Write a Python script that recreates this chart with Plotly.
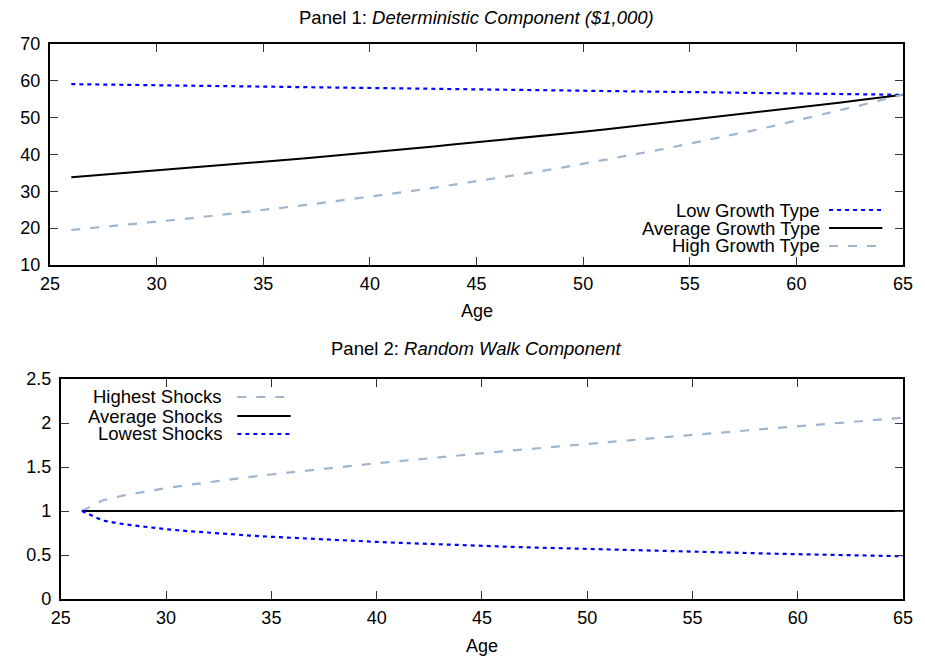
import plotly.graph_objects as go

# ---------------- data ----------------
ages = list(range(26, 66))

low_growth = [59.10, 59.03, 58.95, 58.88, 58.80, 58.73, 58.65, 58.58, 58.50, 58.43,
              58.36, 58.28, 58.21, 58.13, 58.06, 57.98, 57.91, 57.84, 57.76, 57.69,
              57.61, 57.54, 57.46, 57.39, 57.31, 57.24, 57.17, 57.09, 57.02, 56.94,
              56.87, 56.79, 56.72, 56.65, 56.57, 56.50, 56.42, 56.35, 56.27, 56.20]

avg_growth = [33.80, 34.25, 34.70, 35.15, 35.60, 36.10, 36.55, 37.05, 37.50, 38.00,
              38.50, 39.00, 39.50, 40.05, 40.55, 41.10, 41.65, 42.20, 42.75, 43.30,
              43.85, 44.45, 45.00, 45.60, 46.20, 46.80, 47.45, 48.05, 48.70, 49.35,
              50.00, 50.65, 51.30, 52.00, 52.65, 53.35, 54.05, 54.80, 55.50, 56.25]

high_growth = [19.50, 20.04, 20.59, 21.16, 21.74, 22.34, 22.96, 23.59, 24.24, 24.91,
               25.60, 26.30, 27.03, 27.77, 28.54, 29.33, 30.13, 30.96, 31.82, 32.70,
               33.60, 34.52, 35.47, 36.45, 37.46, 38.49, 39.55, 40.64, 41.76, 42.91,
               44.10, 45.31, 46.56, 47.85, 49.17, 50.52, 51.91, 53.34, 54.81, 56.30]

highest_shocks = [1.000, 1.123, 1.178, 1.222, 1.260, 1.295, 1.328, 1.358, 1.387, 1.415,
                  1.442, 1.468, 1.493, 1.518, 1.542, 1.565, 1.589, 1.611, 1.634, 1.656,
                  1.678, 1.699, 1.721, 1.742, 1.763, 1.783, 1.804, 1.824, 1.845, 1.865,
                  1.885, 1.905, 1.924, 1.944, 1.963, 1.983, 2.002, 2.021, 2.041, 2.060]

average_shocks = [1.0] * 40

lowest_shocks = [1.000, 0.891, 0.849, 0.818, 0.793, 0.772, 0.753, 0.736, 0.721, 0.707,
                 0.694, 0.681, 0.670, 0.659, 0.649, 0.639, 0.629, 0.621, 0.612, 0.604,
                 0.596, 0.588, 0.581, 0.574, 0.567, 0.561, 0.554, 0.548, 0.542, 0.536,
                 0.531, 0.525, 0.520, 0.514, 0.509, 0.504, 0.499, 0.495, 0.490, 0.486]

x_ticks = [25, 30, 35, 40, 45, 50, 55, 60, 65]
y1_ticks = [10, 20, 30, 40, 50, 60, 70]
y2_ticks = [0, 0.5, 1, 1.5, 2, 2.5]

# ---------------- styles ----------------
BLUE = "#0000ff"
BLACK = "#000000"
SLATE = "#9fb6cd"
FONT = "Liberation Sans, Arial, Helvetica, sans-serif"
FS = 18

styles = {
    "low": dict(color=BLUE, width=2.2, dash="4px,4px"),
    "avg": dict(color=BLACK, width=2),
    "high": dict(color=SLATE, width=2.2, dash="9px,10px"),
}

fig = go.Figure()

panel1 = [("Low Growth Type", low_growth, "low"),
          ("Average Growth Type", avg_growth, "avg"),
          ("High Growth Type", high_growth, "high")]
panel2 = [("Highest Shocks", highest_shocks, "high"),
          ("Average Shocks", average_shocks, "avg"),
          ("Lowest Shocks", lowest_shocks, "low")]

for name, vals, st in panel1:
    fig.add_trace(go.Scatter(x=ages, y=vals, mode="lines", name=name,
                             line=styles[st], xaxis="x", yaxis="y", showlegend=False))
for name, vals, st in panel2:
    fig.add_trace(go.Scatter(x=ages, y=vals, mode="lines", name=name,
                             line=styles[st], xaxis="x2", yaxis="y2", showlegend=False))

axis_common = dict(showline=True, linecolor=BLACK, linewidth=2, mirror="ticks",
                   ticks="inside", ticklen=8, tickcolor="#333333", tickwidth=1,
                   showgrid=False, zeroline=False,
                   tickfont=dict(family=FONT, size=FS, color=BLACK))

# page body adds an 8px offset; work in reference-pixel coordinates
OFF = 8
W, H = 917, 654
ML, MR, MT, MB = 42 - OFF, 18, 44 - OFF, 63
PW, PH = W - ML - MR, H - MT - MB


def px_x(px):
    return (px - OFF - ML) / PW


def px_y(py):
    return (H - MB - (py - OFF)) / PH


fig.update_layout(
    width=W, height=H,
    margin=dict(l=ML, r=MR, t=MT, b=MB),
    paper_bgcolor="white", plot_bgcolor="white",
    font=dict(family=FONT, size=FS, color=BLACK),
    xaxis=dict(domain=[0, 1], anchor="y", range=[25, 65], tickvals=x_ticks,
               ticklabelstandoff=1, **axis_common),
    yaxis=dict(domain=[px_y(265), 1], anchor="x", range=[10, 70], tickvals=y1_ticks,
               ticklabelstandoff=4, **axis_common),
    xaxis2=dict(domain=[px_x(53), 1], anchor="y2", range=[25, 65], tickvals=x_ticks,
                ticklabelstandoff=1, **axis_common),
    yaxis2=dict(domain=[0, px_y(379)], anchor="x2", range=[0, 2.5], tickvals=y2_ticks,
                ticklabelstandoff=4, **axis_common),
)

ann = []
# titles
ann.append(dict(text="Panel 1: <i>Deterministic Component ($1,000)</i>", x=px_x(475), y=px_y(17),
                xref="paper", yref="paper", showarrow=False, xanchor="center", yanchor="middle",
                font=dict(size=18.5)))
ann.append(dict(text="Panel 2: <i>Random Walk Component</i>", x=px_x(475), y=px_y(348),
                xref="paper", yref="paper", showarrow=False, xanchor="center", yanchor="middle",
                font=dict(size=18.5)))
# axis titles
ann.append(dict(text="Age", x=px_x(475), y=px_y(311), xref="paper", yref="paper", showarrow=False,
                xanchor="center", yanchor="middle"))
ann.append(dict(text="Age", x=px_x(480), y=px_y(646), xref="paper", yref="paper", showarrow=False,
                xanchor="center", yanchor="middle"))

shapes = []
# legend panel 1
leg1_rows = [210, 228, 246]
for (name, _, st), ry in zip(panel1, leg1_rows):
    ann.append(dict(text=name, x=px_x(825), y=px_y(ry), xref="paper", yref="paper",
                    showarrow=False, xanchor="right", yanchor="middle", font=dict(size=18.5)))
    shapes.append(dict(type="line", xref="paper", yref="paper", x0=px_x(832), x1=px_x(886),
                       y0=px_y(ry), y1=px_y(ry), line=styles[st]))
# legend panel 2
leg2_rows = [397, 416, 434]
for (name, _, st), ry in zip(panel2, leg2_rows):
    ann.append(dict(text=name, x=px_x(218), y=px_y(ry), xref="paper", yref="paper",
                    showarrow=False, xanchor="right", yanchor="middle", font=dict(size=18.5)))
    shapes.append(dict(type="line", xref="paper", yref="paper", x0=px_x(232), x1=px_x(286),
                       y0=px_y(ry), y1=px_y(ry), line=styles[st]))

fig.update_layout(annotations=ann, shapes=shapes)

fig.write_html("out.html")
